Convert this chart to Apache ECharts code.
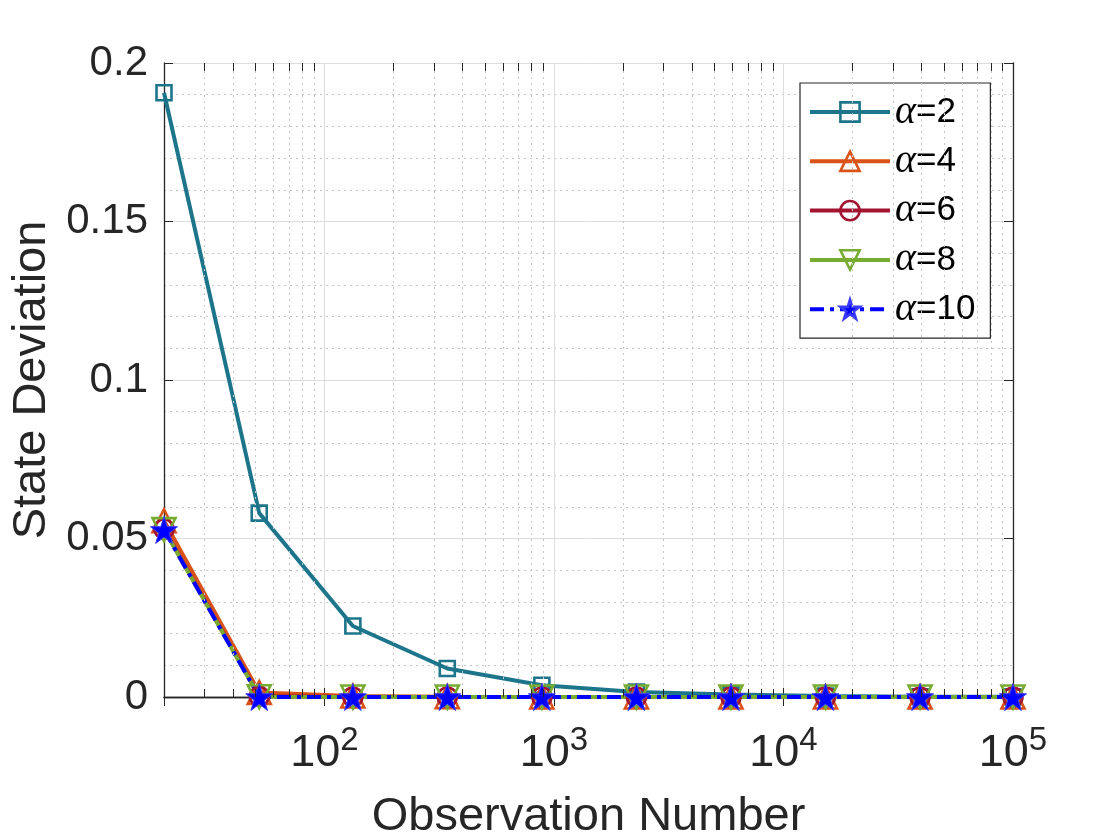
<!DOCTYPE html>
<html>
<head>
<meta charset="utf-8">
<script src="https://cdn.jsdelivr.net/npm/echarts@6/dist/echarts.min.js"></script>
<style>
  html, body { margin: 0; padding: 0; background: #fff; }
  #chart { width: 1120px; height: 840px; }
</style>
</head>
<body>
<div id="chart"></div>
<script>
// observation numbers (log spaced)
const obsNumbers = [20, 52, 133, 343, 886, 2287, 5905, 15246, 39364, 100000];

// state deviation per alpha
const alpha2 = [0.1906, 0.0580, 0.0224, 0.0090, 0.0037, 0.0016, 0.0008, 0.0003, 0.0001, 0.00005];
const alpha4 = [0.0556, 0.0014, 0.0003, 0.0001, 0, 0, 0, 0, 0, 0];
const alpha6 = [0.0530, 0.0002, 0, 0, 0, 0, 0, 0, 0, 0];
const alpha8 = [0.0528, 0.0001, 0, 0, 0, 0, 0, 0, 0, 0];
const alpha10 = [0.0527, 0, 0, 0, 0, 0, 0, 0, 0, 0];

const seriesNames = ['α=2', 'α=4', 'α=6', 'α=8', 'α=10'];
const yTickLabels = ['0', '0.05', '0.1', '0.15', '0.2'];
const xMinorTicks = [30, 40, 50, 60, 70, 80, 90,
  200, 300, 400, 500, 600, 700, 800, 900,
  2000, 3000, 4000, 5000, 6000, 7000, 8000, 9000,
  20000, 30000, 40000, 50000, 60000, 70000, 80000, 90000];

const AX = '#262626';
const FONT = 'Liberation Sans, Arial, Helvetica, sans-serif';
const STAR = 'path://M50,0 L61.2,34.5 L97.6,34.5 L68.2,55.9 L79.4,90.5 L50,69.1 L20.6,90.5 L31.8,55.9 L2.4,34.5 L38.8,34.5 Z';

const chart = echarts.init(document.getElementById('chart'));

function lineSeries(name, values, color, symbol, size, extra) {
  return Object.assign({
    name: name,
    type: 'line',
    data: obsNumbers.map((x, i) => [x, values[i]]),
    symbol: symbol,
    symbolSize: size,
    showAllSymbol: true,
    clip: false,
    lineStyle: { color: color, width: 4 },
    itemStyle: { color: 'transparent', borderColor: color, borderWidth: 2.6 },
    emphasis: { disabled: true },
    z: 3
  }, extra || {});
}

// dotted minor grid + small minor ticks on a log x axis (2..9 per decade)
const minorGrid = xMinorTicks.map(v => ({ xAxis: v }));
const minorTicks = [];
xMinorTicks.forEach(v => {
  minorTicks.push([{ coord: [v, 0] }, { coord: [v, 0.0025] }]);
  minorTicks.push([{ coord: [v, 0.2] }, { coord: [v, 0.1975] }]);
});

const isPow10 = v => Math.abs(Math.log10(v) - Math.round(Math.log10(v))) < 1e-6;

const option = {
  animation: false,
  backgroundColor: '#fff',
  grid: { left: 164, right: 107, top: 63, bottom: 143, containLabel: false, outerBoundsMode: 'none' },
  legend: {
    data: seriesNames,
    orient: 'vertical',
    left: 800,
    top: 83,
    padding: [9, 15, 9, 8],
    itemWidth: 80,
    itemHeight: 24,
    itemGap: 9.3,
    backgroundColor: '#fff',
    borderColor: AX,
    borderWidth: 1.2,
    borderRadius: 0,
    lineStyle: { width: 4 },
    itemStyle: { borderWidth: 2.6 },
    formatter: name => '{a|α}{b|' + name.slice(1) + '}',
    textStyle: {
      color: '#000',
      rich: {
        a: { fontFamily: 'Liberation Serif, DejaVu Serif, serif', fontStyle: 'italic', fontSize: 40, lineHeight: 35, color: '#000' },
        b: { fontFamily: FONT, fontSize: 35, lineHeight: 35, color: '#000' }
      }
    }
  },
  xAxis: [{
    type: 'log',
    logBase: 10,
    min: 20,
    max: 100000,
    name: 'Observation Number',
    nameLocation: 'middle',
    nameGap: 97,
    nameTextStyle: { fontFamily: FONT, fontSize: 47, color: AX },
    axisLine: { show: true, lineStyle: { color: AX, width: 1.3 } },
    axisTick: { show: true, inside: true, length: 9, lineStyle: { color: AX } },
    axisLabel: {
      margin: 27,
      formatter: v => isPow10(v) ? '{b|10}{s|' + Math.round(Math.log10(v)) + '}' : '',
      rich: {
        b: { fontFamily: FONT, fontSize: 45, color: AX },
        s: { fontFamily: FONT, fontSize: 33, color: AX, padding: [0, 0, 26, 0] }
      }
    },
    splitLine: { show: true, lineStyle: { color: '#dcdcdc', width: 1 } }
  }, {
    type: 'log',
    logBase: 10,
    min: 20,
    max: 100000,
    position: 'top',
    axisLine: { show: true, lineStyle: { color: AX, width: 1.3 } },
    axisTick: { show: true, inside: true, length: 9, lineStyle: { color: AX } },
    axisLabel: { show: false },
    splitLine: { show: false }
  }],
  yAxis: [{
    type: 'value',
    min: 0,
    max: 0.2,
    interval: 0.05,
    name: 'State Deviation',
    nameLocation: 'middle',
    nameGap: 100,
    nameTextStyle: { fontFamily: FONT, fontSize: 47, color: AX },
    axisLine: { show: true, lineStyle: { color: AX, width: 1.3 } },
    axisTick: { show: true, inside: true, length: 9, lineStyle: { color: AX } },
    axisLabel: {
      fontFamily: FONT, fontSize: 42, color: AX, margin: 16,
      formatter: v => yTickLabels[Math.round(v / 0.05)]
    },
    splitLine: { show: true, lineStyle: { color: '#dcdcdc', width: 1 } },
    minorTick: { show: false, splitNumber: 5 },
    minorSplitLine: { show: true, lineStyle: { color: '#c4c4c4', width: 1, type: [2, 4] } }
  }, {
    type: 'value',
    min: 0,
    max: 0.2,
    interval: 0.05,
    position: 'right',
    axisLine: { show: true, lineStyle: { color: AX, width: 1.3 } },
    axisTick: { show: true, inside: true, length: 9, lineStyle: { color: AX } },
    axisLabel: { show: false },
    splitLine: { show: false }
  }],
  series: [
    {
      type: 'line',
      data: [],
      silent: true,
      z: 1,
      markLine: {
        silent: true,
        symbol: ['none', 'none'],
        label: { show: false },
        animation: false,
        lineStyle: { color: '#c4c4c4', width: 1, type: [2, 4] },
        data: minorGrid
      }
    },
    {
      type: 'line',
      data: [],
      silent: true,
      z: 1,
      markLine: {
        silent: true,
        symbol: ['none', 'none'],
        label: { show: false },
        animation: false,
        lineStyle: { color: AX, width: 1, type: 'solid' },
        data: minorTicks
      }
    },
    lineSeries(seriesNames[0], alpha2, '#1d758b', 'rect', 15),
    lineSeries(seriesNames[1], alpha4, '#d95319', 'triangle', 23),
    lineSeries(seriesNames[2], alpha6, '#a2142f', 'circle', 19),
    lineSeries(seriesNames[3], alpha8, '#77ac30', 'triangle', 23, { symbolRotate: 180 }),
    lineSeries(seriesNames[4], alpha10, '#0000ff', STAR, 27, {
      lineStyle: { color: '#0000ff', width: 4, type: [14, 6, 4, 6] },
      itemStyle: { color: '#0000ff', borderColor: '#3a3aff', borderWidth: 1 }
    })
  ]
};

chart.setOption(option);
</script>
</body>
</html>
